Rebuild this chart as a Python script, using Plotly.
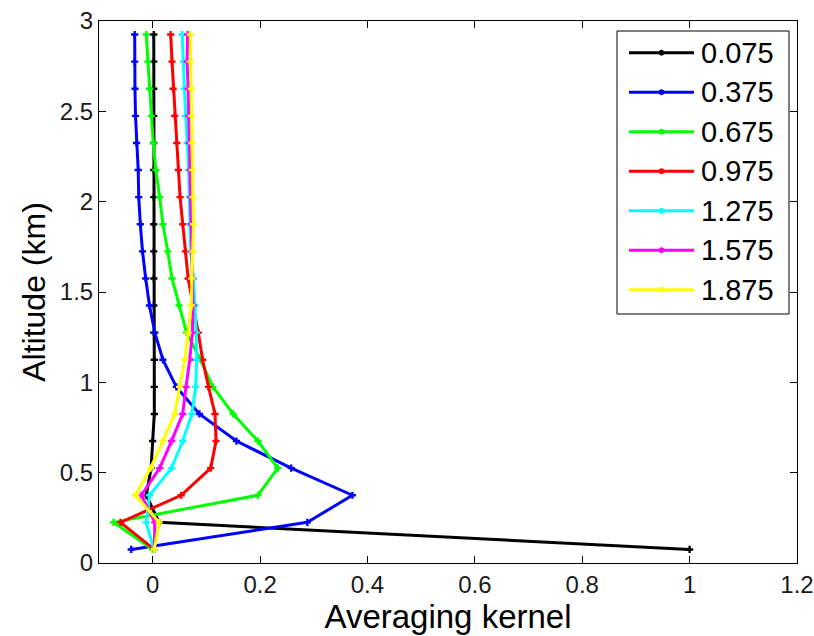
import plotly.graph_objects as go

# Retrieval altitudes (km)
altitude = [0.075, 0.225, 0.375, 0.525, 0.675, 0.825, 0.975, 1.125, 1.275, 1.425,
            1.575, 1.725, 1.875, 2.025, 2.175, 2.325, 2.475, 2.625, 2.775, 2.925]

# Averaging kernel rows, one per nominal altitude (km)
ak_0075 = [1.000, 0.012, -0.012, -0.003, 0.000, 0.003, 0.003, 0.003, 0.002, 0.002,
           0.002, 0.002, 0.002, 0.002, 0.002, 0.002, 0.002, 0.002, 0.002, 0.002]
ak_0375 = [-0.040, 0.288, 0.372, 0.258, 0.156, 0.087, 0.044, 0.019, 0.004, -0.006,
           -0.013, -0.019, -0.023, -0.026, -0.027, -0.030, -0.032, -0.033, -0.0335, -0.0335]
ak_0675 = [0.000, -0.073, 0.196, 0.233, 0.196, 0.150, 0.112, 0.089, 0.063, 0.049,
           0.036, 0.028, 0.019, 0.013, 0.006, 0.001, -0.0025, -0.006, -0.009, -0.012]
ak_0975 = [0.003, -0.060, 0.053, 0.108, 0.118, 0.116, 0.104, 0.093, 0.085, 0.076,
           0.066, 0.061, 0.056, 0.051, 0.048, 0.045, 0.041, 0.038, 0.036, 0.0335]
ak_1275 = [0.002, -0.012, -0.006, 0.035, 0.056, 0.073, 0.080, 0.082, 0.081, 0.079,
           0.076, 0.071, 0.069, 0.068, 0.067, 0.064, 0.061, 0.059, 0.057, 0.055]
ak_1575 = [0.003, 0.004, -0.021, 0.013, 0.035, 0.056, 0.062, 0.069, 0.074, 0.075,
           0.074, 0.073, 0.072, 0.071, 0.070, 0.068, 0.067, 0.066, 0.064, 0.065]
ak_1875 = [0.003, 0.012, -0.032, -0.004, 0.019, 0.041, 0.050, 0.060, 0.066, 0.072,
           0.073, 0.075, 0.076, 0.075, 0.074, 0.073, 0.072, 0.072, 0.070, 0.070]

series_names = ["0.075", "0.375", "0.675", "0.975", "1.275", "1.575", "1.875"]
series_values = [ak_0075, ak_0375, ak_0675, ak_0975, ak_1275, ak_1575, ak_1875]
series_colors = ["#000000", "#0000ff", "#00ff00", "#ff0000", "#00ffff", "#ff00ff", "#ffff00"]

x_ticks = [0, 0.2, 0.4, 0.6, 0.8, 1, 1.2]
x_ticklabels = ["0", "0.2", "0.4", "0.6", "0.8", "1", "1.2"]
y_ticks = [0, 0.5, 1, 1.5, 2, 2.5, 3]
y_ticklabels = ["0", "0.5", "1", "1.5", "2", "2.5", "3"]

W, H = 814, 636
M_L, M_R, M_T, M_B = 99, 17, 21, 73
PW, PH = W - M_L - M_R, H - M_T - M_B


def px_x(px):
    """Pixel column -> paper x fraction."""
    return (px - M_L) / PW


def px_y(py):
    """Pixel row (from top) -> paper y fraction."""
    return (H - M_B - py) / PH


fig = go.Figure()
for name, vals, col in zip(series_names, series_values, series_colors):
    fig.add_trace(go.Scatter(
        x=vals, y=altitude, name=name, showlegend=False,
        mode="lines+markers",
        line=dict(color=col, width=3),
        marker=dict(symbol="cross", size=6, color=col),
    ))

# MATLAB-style legend box: long line samples with a centred marker dot
box_l, box_r, box_t, box_b = 617, 789, 31, 314
row0, row_step = 52.7, 39.5
line_l, line_r, text_l = 629, 694, 699

shapes = [dict(type="rect", xref="paper", yref="paper",
               x0=px_x(box_l), x1=px_x(box_r), y0=px_y(box_b), y1=px_y(box_t),
               line=dict(color="#000000", width=1), fillcolor="#ffffff", layer="above")]
annotations = []
for i, (name, col) in enumerate(zip(series_names, series_colors)):
    ry = row0 + i * row_step
    shapes.append(dict(type="line", xref="paper", yref="paper",
                       x0=px_x(line_l), x1=px_x(line_r), y0=px_y(ry), y1=px_y(ry),
                       line=dict(color=col, width=3), layer="above"))
    cx = (line_l + line_r) / 2
    shapes.append(dict(type="circle", xref="paper", yref="paper",
                       x0=px_x(cx - 2.5), x1=px_x(cx + 2.5), y0=px_y(ry + 2.5), y1=px_y(ry - 2.5),
                       line=dict(color=col, width=1), fillcolor=col, layer="above"))
    annotations.append(dict(xref="paper", yref="paper", x=px_x(text_l), y=px_y(ry),
                            xanchor="left", yanchor="middle", showarrow=False, text=name,
                            font=dict(family="Liberation Sans, Arial", size=29, color="#000000")))

tick_font = dict(family="Liberation Sans, Arial", size=24, color="#1a1a1a")
axis_common = dict(
    showgrid=False, zeroline=False, showline=True, linecolor="#000000", linewidth=1,
    mirror="allticks", ticks="inside", ticklen=7, tickcolor="#000000", tickwidth=1,
    tickfont=tick_font, automargin=False, ticklabeloverflow="allow",
)

fig.update_layout(
    width=W, height=H,
    margin=dict(l=M_L, r=M_R, t=M_T, b=M_B),
    paper_bgcolor="#ffffff", plot_bgcolor="#ffffff",
    font=dict(family="Liberation Sans, Arial", color="#000000"),
    showlegend=False,
    xaxis=dict(range=[-0.1, 1.2], tickvals=x_ticks, ticktext=x_ticklabels,
               title=dict(text="Averaging kernel", font=dict(size=33), standoff=2),
               **axis_common),
    yaxis=dict(range=[0, 3], tickvals=y_ticks, ticktext=y_ticklabels,
               title=dict(text="Altitude (km)", font=dict(size=32), standoff=4),
               **axis_common),
    shapes=shapes,
    annotations=annotations,
)

fig.write_html("out.html")
